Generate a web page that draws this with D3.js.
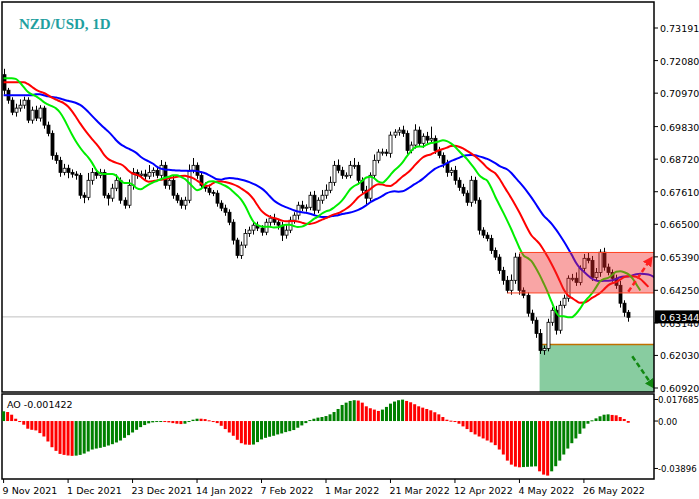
<!DOCTYPE html>
<html><head><meta charset="utf-8">
<script src="https://cdn.jsdelivr.net/npm/d3@7"></script>
<style>body{margin:0;background:#fff}svg{display:block}</style>
</head><body>
<script>
// ---------- data ----------
const firstOpen = 0.7160;
const closes = [
0.7107,0.7073,0.7032,0.7046,0.7056,0.7073,0.7005,0.7039,0.7012,0.7046,
0.6988,0.6960,0.6885,0.6868,0.6827,0.6841,0.6827,0.6821,0.6817,0.6749,
0.6742,0.6800,0.6827,0.6817,0.6827,0.6749,0.6739,0.6773,0.6800,0.6732,
0.6715,0.6783,0.6827,0.6817,0.6821,0.6814,0.6827,0.6834,0.6817,0.6851,
0.6783,0.6800,0.6749,0.6732,0.6715,0.6732,0.6834,0.6851,0.6817,0.6783,
0.6773,0.6759,0.6756,0.6722,0.6705,0.6691,0.6657,0.6596,0.6544,0.6579,
0.6619,0.6630,0.6647,0.6637,0.6623,0.6657,0.6671,0.6657,0.6647,0.6613,
0.6630,0.6664,0.6681,0.6715,0.6705,0.6708,0.6749,0.6698,0.6732,0.6749,
0.6766,0.6793,0.6851,0.6834,0.6817,0.6817,0.6851,0.6851,0.6800,0.6766,
0.6739,0.6817,0.6868,0.6896,0.6896,0.6892,0.6954,0.6964,0.6971,0.6960,
0.6902,0.6920,0.6971,0.6926,0.6950,0.6937,0.6943,0.6902,0.6885,0.6858,
0.6827,0.6834,0.6800,0.6776,0.6756,0.6725,0.6800,0.6732,0.6630,0.6613,
0.6602,0.6561,0.6538,0.6493,0.6459,0.6425,0.6459,0.6538,0.6425,0.6408,
0.6347,0.6323,0.6278,0.6220,0.6227,0.6316,0.6357,0.6289,0.6374,0.6398,
0.6466,0.6466,0.6452,0.6500,0.6534,0.6527,0.6469,0.6486,0.6555,0.6504,
0.6486,0.6466,0.6442,0.6381,0.6350,0.6333];
// wick extensions in pips
const wickHi = [
20,8,10,15,20,12,10,12,15,10, 8,12,10,10,12,15,12,10,10,8,
10,25,15,10,12,10,8,15,20,10, 10,20,15,10,12,15,25,10,10,18,
12,10,15,8,10,12,20,25,10,10, 10,12,8,10,10,12,10,10,8,12,
15,12,10,12,10,12,10,15,10,12, 20,12,10,12,15,10,12,15,10,18,
20,20,15,20,12,10,15,25,12,10, 15,10,20,10,12,10,12,10,10,15,
10,12,20,12,10,15,40,10,12,10, 12,10,15,10,12,10,15,12,10,10,
10,12,10,10,12,15,20,15,12,10, 10,12,10,15,10,12,10,15,15,12,
10,15,20,10,15,20,15,15,10,15, 12,10,12,15,10,8];
const wickLo = [
15,12,10,15,12,12,10,12,10,12, 12,10,15,12,15,10,20,12,15,12,
20,10,15,12,10,10,25,12,10,12, 12,10,15,12,10,12,10,15,10,12,
12,15,12,10,12,15,10,10,12,10, 12,10,10,12,10,12,10,15,10,12,
10,12,15,10,12,10,12,10,15,20, 12,10,12,15,10,12,10,15,10,12,
12,10,12,10,12,12,10,12,15,10, 20,10,12,10,12,10,15,10,12,12,
12,10,12,10,15,12,10,12,10,15, 15,12,15,12,10,12,15,12,15,10,
10,12,10,12,15,10,15,12,15,10, 12,12,15,12,15,10,12,15,12,10,
12,10,12,10,12,10,12,10,15,12, 10,12,12,15,15,15];
// Alligator starting values (read at left edge)
const jawStart = 0.7090, teethStart = 0.7134, lipsStart = 0.7148;
// Awesome Oscillator values in pips (1e-4)
const aoPips = [
80,74,52,19,-3,-30,-63,-72,-77,-99,-127,-168,-215,-245,-270,-278,-283,-286,
-284,-278,-267,-250,-234,-226,-220,-212,-201,-190,-176,-160,-138,
-116,-94,-72,-50,-33,-19,-11,-6,-3,
-6,-11,-17,-22,-25,-22,-3,11,19,19,16,6,
-6,-17,-39,-66,-94,-121,-154,-182,-193,-195,
-193,-173,-151,-138,-129,-121,-110,-102,-91,-83,-74,-55,-36,-17,
8,19,28,33,41,55,74,99,132,151,165,171,
168,151,121,105,94,83,
94,116,143,160,171,176,
165,154,138,121,110,99,88,72,55,33,11,3,
-8,-22,-44,-66,-91,-110,-127,-143,-160,-176,-198,-234,-275,-325,-358,-374,-380,
-378,-376,-374,-372,-413,-440,-448,
-413,-371,-325,-275,-226,-182,-143,-105,-61,-22,
6,22,39,52,55,50,47,33,17,-14];
const priceTicks = [0.73191,0.72080,0.70970,0.69830,0.68720,0.67610,0.66500,0.65390,0.64250,0.63140,0.62030,0.60920];
const aoTicks = [0.017685, 0.0, -0.03896];
const aoTickLabels = ["0.017685","0.00","-0.03896"];
const dateIdx = [0,16,32,48,64,80,96,112,128,144];
const dateLabels = ["9 Nov 2021","1 Dec 2021","23 Dec 2021","14 Jan 2022","7 Feb 2022","1 Mar 2022","21 Mar 2022","12 Apr 2022","4 May 2022","26 May 2022"];
const lastPrice = 0.63344;
const resistance = [0.6416, 0.6554];
const supportTop = 0.6240;
const title = "NZD/USD, 1D";
const aoLabel = "AO -0.001422";

// ---------- build ----------
const W=699,H=499, L=2, R=654, mainTop=2, mainBot=392, aoTop=394, aoBot=479;
const svg=d3.select("body").append("svg").attr("width",W).attr("height",H);
const n=closes.length;
const x=d3.scaleLinear().domain([0,1]).range([3.6,7.63]);
const y=d3.scaleLinear().domain([0.60920,0.73191]).range([388,28]);
const ya=d3.scaleLinear().domain([-0.0476,0.0222]).range([aoBot,aoTop]);

const bars=closes.map((c,i)=>{const o=i?closes[i-1]:firstOpen;
 return {i,o,c,h:Math.max(o,c)+wickHi[i]/1e4,l:Math.min(o,c)-wickLo[i]/1e4};});

function smma(period,start){let v=start;return bars.map(b=>{const m=(b.h+b.l)/2;v=(v*(period-1)+m)/period;return v;});}
function shifted(vals,shift,start){const out=[];for(let i=0;i<n+shift;i++){out.push({i,v:i-shift>=0?vals[i-shift]:start});}return out;}
const jaw=shifted(smma(13,jawStart),8,jawStart);
const teeth=shifted(smma(8,teethStart),5,teethStart);
const lips=shifted(smma(5,lipsStart),3,lipsStart);

svg.append("clipPath").attr("id","mc").append("rect").attr("x",L).attr("y",mainTop).attr("width",R-L).attr("height",mainBot-mainTop);
const g=svg.append("g").attr("clip-path","url(#mc)");

g.append("line").attr("x1",L).attr("x2",R).attr("y1",y(lastPrice)).attr("y2",y(lastPrice)).attr("stroke","#c0c0c0");

g.append("rect").attr("x",x(133)).attr("y",y(supportTop)).attr("width",R-x(133)).attr("height",mainBot-y(supportTop)).attr("fill","#88cca0");
g.append("line").attr("x1",x(133)).attr("x2",R).attr("y1",y(supportTop)).attr("y2",y(supportTop)).attr("stroke","#c07000").attr("stroke-width",1.5);

const cg=g.append("g");
bars.forEach(b=>{
 const cx=Math.round(x(b.i))+0.5;
 cg.append("line").attr("x1",cx).attr("x2",cx).attr("y1",y(b.h)).attr("y2",y(b.l)).attr("stroke","#000");
 const top=y(Math.max(b.o,b.c)), bot=y(Math.min(b.o,b.c));
 cg.append("rect").attr("x",cx-1.5).attr("y",top).attr("width",3).attr("height",Math.max(1,bot-top))
  .attr("fill",b.c>=b.o?"#fff":"#000").attr("stroke","#000").attr("stroke-width",0.8);
});

const line=d3.line().x(d=>x(d.i)).y(d=>y(d.v)).curve(d3.curveMonotoneX);
g.append("path").datum(jaw).attr("d",line).attr("fill","none").attr("stroke","#0000ff").attr("stroke-width",2);
g.append("path").datum(teeth).attr("d",line).attr("fill","none").attr("stroke","#ff0000").attr("stroke-width",2);
g.append("path").datum(lips).attr("d",line).attr("fill","none").attr("stroke","#00ee00").attr("stroke-width",2);

g.append("rect").attr("x",x(128)).attr("y",y(resistance[1])).attr("width",R-x(128)).attr("height",y(resistance[0])-y(resistance[1]))
 .attr("fill","rgba(240,40,40,0.42)");
g.append("line").attr("x1",x(128)).attr("x2",R).attr("y1",y(resistance[1])).attr("y2",y(resistance[1])).attr("stroke","#ff4020");
g.append("line").attr("x1",x(125)).attr("x2",R).attr("y1",y(resistance[0])).attr("y2",y(resistance[0])).attr("stroke","#ff4020");

const defs=svg.append("defs");
[["ar","#ff2020"],["ag","#118811"]].forEach(([id,c])=>defs.append("marker").attr("id",id).attr("viewBox","0 0 10 10").attr("refX",6).attr("refY",5)
 .attr("markerWidth",4).attr("markerHeight",4).attr("orient","auto").append("path").attr("d","M0,0L10,5L0,10z").attr("fill",c));
g.append("line").attr("x1",x(155)).attr("y1",y(0.6420)).attr("x2",x(160.5)).attr("y2",y(0.6530)).attr("stroke","#ff2020").attr("stroke-width",2.5).attr("stroke-dasharray","5,3").attr("marker-end","url(#ar)");
g.append("line").attr("x1",x(156)).attr("y1",y(0.6200)).attr("x2",x(161)).attr("y2",y(0.6100)).attr("stroke","#118811").attr("stroke-width",2.5).attr("stroke-dasharray","5,3").attr("marker-end","url(#ag)");

svg.append("text").attr("x",19).attr("y",29).text(title).attr("font-family","Liberation Serif").attr("font-weight","bold").attr("font-size",15).attr("fill","#1fa0a0");

svg.append("rect").attr("x",L).attr("y",mainTop).attr("width",R-L).attr("height",mainBot-mainTop).attr("fill","none").attr("stroke","#000").attr("stroke-width",1.5);
svg.append("rect").attr("x",L).attr("y",aoTop).attr("width",R-L).attr("height",aoBot-aoTop).attr("fill","none").attr("stroke","#000").attr("stroke-width",1.5);

const fnt="DejaVu Sans";
priceTicks.forEach(p=>{
 svg.append("line").attr("x1",R).attr("x2",R+4).attr("y1",y(p)).attr("y2",y(p)).attr("stroke","#000");
 svg.append("text").attr("x",660).attr("y",y(p)+4).text(p.toFixed(5)).attr("font-family",fnt).attr("font-size",9.5).attr("fill","#000");
});
svg.append("rect").attr("x",R+1).attr("y",y(lastPrice)-6.5).attr("width",45).attr("height",13).attr("fill","#000");
svg.append("text").attr("x",660).attr("y",y(lastPrice)+4).text(lastPrice.toFixed(5)).attr("font-family",fnt).attr("font-size",9.5).attr("fill","#fff");

const ag=svg.append("g");
aoPips.forEach((p,i)=>{const v=p/1e4, up=i===0?true:p>aoPips[i-1];
 ag.append("rect").attr("x",x(i)-1.5).attr("width",3).attr("y",Math.min(ya(v),ya(0))).attr("height",Math.max(1,Math.abs(ya(v)-ya(0))))
  .attr("fill",up?"#008000":"#ff0000");});
aoTicks.forEach((t,k)=>{
 svg.append("line").attr("x1",R).attr("x2",R+4).attr("y1",ya(t)).attr("y2",ya(t)).attr("stroke","#000");
 svg.append("text").attr("x",658).attr("y",ya(t)+4).text(aoTickLabels[k]).attr("font-family",fnt).attr("font-size",8.6);
});
svg.append("text").attr("x",7).attr("y",408).text(aoLabel).attr("font-family",fnt).attr("font-size",9.5);

dateIdx.forEach((d,k)=>{
 svg.append("line").attr("x1",x(d)).attr("x2",x(d)).attr("y1",aoBot).attr("y2",aoBot+4).attr("stroke","#000");
 svg.append("text").attr("x",x(d)-1).attr("y",494).text(dateLabels[k]).attr("font-family",fnt).attr("font-size",9.5);
});
</script>
</body></html>
